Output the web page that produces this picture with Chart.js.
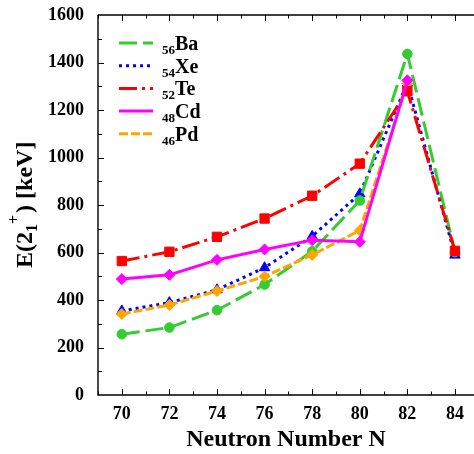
<!DOCTYPE html>
<html><head><meta charset="utf-8">
<script src="https://cdn.jsdelivr.net/npm/chart.js@4"></script>
<style>html,body{margin:0;padding:0;background:#fff}</style>
</head><body>
<canvas id="c" width="474" height="454"></canvas>
<script>
const neutronN = [70, 72, 74, 76, 78, 80, 82, 84];
const ba56 = [256, 284, 357, 465, 605, 819, 1436, 602];
const xe54 = [354, 389, 443, 536, 668, 847, 1313, 589];
const te52 = [564, 603, 666, 743, 839, 974, 1279, 607];
const cd48 = [488, 506, 569, 613, 652, 645, 1325, null];
const pd46 = [341, 379, 438, 499, 590, 693, 1311, null];
const xTickLabels = [70, 72, 74, 76, 78, 80, 82, 84];
const yTickLabels = [0, 200, 400, 600, 800, 1000, 1200, 1400, 1600];
const seriesMass = ['56', '54', '52', '48', '46'];
const seriesElem = ['Ba', 'Xe', 'Te', 'Cd', 'Pd'];

const FONT = '"Liberation Serif", "Times New Roman", Times, serif';
const toPts = arr => neutronN.map((n, i) => ({x: n, y: arr[i]}));

const styles = [
  {color: '#33cc33', dash: [18, 6], style: 'circle', r: 4.8, order: 3},
  {color: '#0000ff', dash: [3, 4], style: 'triangle', r: 6, order: 4},
  {color: '#ff0000', dash: [18, 5, 3, 5], style: 'rect', r: 6.6, order: 1},
  {color: '#ff00ff', dash: [], style: 'rectRot', r: 5.5, order: 0},
  {color: '#ffa500', dash: [9, 3], style: 'rectRot', r: 5.5, order: 2}
];
const seriesData = [ba56, xe54, te52, cd48, pd46];

const datasets = seriesData.map((d, i) => ({
  label: seriesMass[i] + seriesElem[i],
  data: toPts(d),
  borderColor: styles[i].color,
  backgroundColor: styles[i].color,
  borderWidth: 3,
  borderDash: styles[i].dash,
  borderCapStyle: 'butt',
  pointStyle: styles[i].style,
  pointRadius: styles[i].r,
  pointHoverRadius: styles[i].r,
  pointBorderWidth: 1,
  pointBorderColor: styles[i].color,
  pointBackgroundColor: styles[i].color,
  tension: 0,
  spanGaps: false,
  order: styles[i].order
}));

const decor = {
  id: 'decor',
  beforeDatasetsDraw(chart) {
    const {ctx, chartArea: a, scales: {x, y}} = chart;
    ctx.save();
    ctx.strokeStyle = '#000';
    ctx.lineWidth = 1.4;
    ctx.beginPath();
    ctx.moveTo(a.left, a.top); ctx.lineTo(a.right, a.top);
    ctx.moveTo(a.left, a.top); ctx.lineTo(a.left, a.bottom); ctx.lineTo(a.right, a.bottom);
    ctx.stroke();
    ctx.lineWidth = 1;
    ctx.beginPath();
    for (let n = 69; n <= 84; n++) {
      const px = Math.round(x.getPixelForValue(n)) + 0.5;
      const L = n % 2 === 0 ? 6 : 3.5;
      ctx.moveTo(px, a.bottom); ctx.lineTo(px, a.bottom - L);
      ctx.moveTo(px, a.top); ctx.lineTo(px, a.top + L);
    }
    for (let v = 100; v < 1600; v += 100) {
      const py = Math.round(y.getPixelForValue(v)) + 0.5;
      const L = v % 200 === 0 ? 6 : 4;
      ctx.moveTo(a.left, py); ctx.lineTo(a.left + L, py);
    }
    ctx.stroke();
    ctx.restore();
  },
  afterDraw(chart) {
    const {ctx, chartArea: a} = chart;
    ctx.save();
    // legend
    for (let i = 0; i < 5; i++) {
      const y0 = a.top + 28 + i * 22.7;
      ctx.strokeStyle = styles[i].color;
      ctx.lineWidth = 3;
      ctx.lineCap = 'butt';
      ctx.setLineDash(styles[i].dash);
      ctx.beginPath();
      ctx.moveTo(a.left + 21, y0); ctx.lineTo(a.left + 55, y0);
      ctx.stroke();
      ctx.setLineDash([]);
      ctx.fillStyle = '#000';
      ctx.textAlign = 'left';
      ctx.textBaseline = 'alphabetic';
      ctx.font = 'bold 13px ' + FONT;
      const sx = a.left + 64;
      ctx.fillText(seriesMass[i], sx, y0 + 11);
      const w = ctx.measureText(seriesMass[i]).width;
      ctx.font = 'bold 20px ' + FONT;
      ctx.fillText(seriesElem[i], sx + w, y0 + 7);
    }
    // y axis title
    ctx.translate(32, 268);
    ctx.rotate(-Math.PI / 2);
    ctx.fillStyle = '#000';
    ctx.textAlign = 'left';
    ctx.textBaseline = 'alphabetic';
    let cx = 0;
    const put = (t, size, dy) => {
      ctx.font = 'bold ' + size + 'px ' + FONT;
      ctx.fillText(t, cx, dy);
      cx += ctx.measureText(t).width;
    };
    put('E(2', 24, 0);
    put('1', 16, 5);
    put('+', 16, -13);
    cx += 2;
    put(') [keV]', 24, 0);
    ctx.restore();
  }
};

new Chart(document.getElementById('c'), {
  type: 'line',
  data: {datasets},
  options: {
    responsive: false,
    animation: false,
    layout: {autoPadding: false, padding: {left: 0, top: 15, right: 0, bottom: 0}},
    plugins: {legend: {display: false}, tooltip: {enabled: false}},
    scales: {
      x: {
        type: 'linear', position: 'bottom', min: 69, max: 84.8,
        afterFit(s) { s.height = 59; s.paddingLeft = 0; s.paddingRight = 0; },
        afterBuildTicks(s) { s.ticks = xTickLabels.map(v => ({value: v})); },
        grid: {display: false, drawTicks: false},
        border: {display: false},
        ticks: {
          padding: 9, color: '#000', maxRotation: 0, autoSkip: false,
          font: {family: FONT, size: 18, weight: 'bold'},
          callback: v => String(v)
        },
        title: {
          display: true, text: 'Neutron Number N', color: '#000',
          font: {family: FONT, size: 24, weight: 'bold'}, padding: {top: 0, bottom: 0}
        }
      },
      y: {
        type: 'linear', position: 'left', min: 0, max: 1600,
        afterFit(s) { s.width = 98; s.paddingTop = 0; s.paddingBottom = 0; },
        afterBuildTicks(s) { s.ticks = yTickLabels.map(v => ({value: v})); },
        grid: {display: false, drawTicks: false},
        border: {display: false},
        ticks: {
          padding: 14, color: '#000', autoSkip: false,
          font: {family: FONT, size: 18, weight: 'bold'},
          callback: v => String(v)
        }
      }
    }
  },
  plugins: [decor]
});
</script>
</body></html>
